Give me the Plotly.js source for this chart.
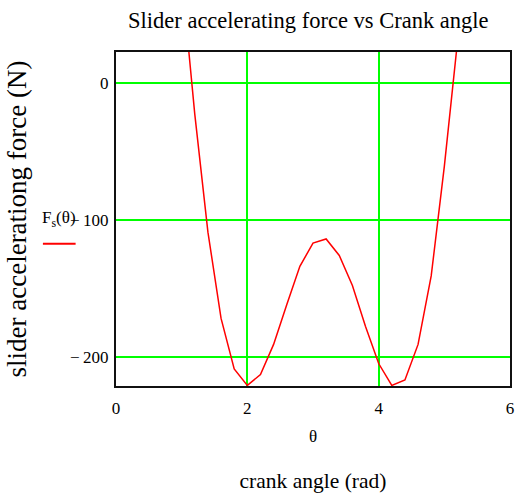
<!DOCTYPE html>
<html>
<head>
<meta charset="utf-8">
<script src="https://cdn.plot.ly/plotly-3.0.1.min.js"></script>
<style>
  html, body { margin: 0; padding: 0; background: #ffffff; }
  #chart { width: 519px; height: 497px; }
</style>
</head>
<body>
<div id="chart"></div>
<script>
// Crank angle samples (rad) and slider accelerating force (N)
const theta = [0, 0.2, 0.4, 0.6, 0.8, 1.0, 1.2, 1.4, 1.6, 1.8, 2.0, 2.2, 2.4, 2.6, 2.8, 3.0,
               3.2, 3.4, 3.6, 3.8, 4.0, 4.2, 4.4, 4.6, 4.8, 5.0, 5.2, 5.4, 5.6, 5.8, 6.0, 6.2];
const Fs = [430, 412, 360, 280, 182, 78, -23, -109, -172, -209, -221, -213, -191, -162, -134, -117,
            -114, -126, -148, -178, -205, -221, -217, -191, -141, -61, 35, 139, 241, 330, 394, 427];

const xTickVals = [0, 2, 4, 6];
const xTickText = ['0', '2', '4', '6'];
const yTickVals = [0, -100, -200];
const yTickText = ['0', '\u2212\u2009100', '\u2212\u2009200'];

const chartTitle = 'Slider accelerating force vs Crank angle';
const xTitle = 'crank angle (rad)';
const yTitle = 'slider accelerationg force (N)';
const xVarLabel = '\u03b8';
const legendLabel = 'F<sub>s</sub>(\u03b8)';

const serif = "'Liberation Serif', serif";

const trace = {
  x: theta,
  y: Fs,
  type: 'scatter',
  mode: 'lines',
  line: { color: '#ff0000', width: 1.5 },
  name: legendLabel,
  showlegend: false,
  hoverinfo: 'x+y'
};

const layout = {
  width: 519,
  height: 497,
  margin: { l: 116, r: 9, t: 52, b: 111, pad: 0 },
  paper_bgcolor: '#ffffff',
  plot_bgcolor: '#ffffff',
  font: { family: serif, color: '#000000', size: 17 },
  title: {
    text: chartTitle,
    font: { family: serif, size: 22.5, color: '#000000' },
    xref: 'paper', x: 0.488, xanchor: 'center',
    yref: 'container', y: 0.96, yanchor: 'middle'
  },
  xaxis: {
    range: [0, 6],
    tickvals: xTickVals,
    ticktext: xTickText,
    ticks: '',
    ticklabelstandoff: 6,
    tickfont: { family: serif, size: 17, color: '#000000' },
    showgrid: true,
    gridcolor: '#00ff00',
    gridwidth: 2,
    zeroline: false,
    showline: true,
    linecolor: '#111111',
    linewidth: 2,
    mirror: true,
    title: {
      text: xTitle,
      font: { family: serif, size: 21.5, color: '#000000' },
      standoff: 56
    },
    automargin: false,
    fixedrange: true
  },
  yaxis: {
    range: [-221.4, 22.6],
    tickvals: yTickVals,
    ticktext: yTickText,
    ticks: '',
    ticklabelstandoff: 2,
    tickfont: { family: serif, size: 17, color: '#000000' },
    showgrid: true,
    gridcolor: '#00ff00',
    gridwidth: 2,
    zeroline: false,
    showline: true,
    linecolor: '#111111',
    linewidth: 2,
    mirror: true,
    title: {
      text: yTitle,
      font: { family: serif, size: 27, color: '#000000' },
      standoff: 36
    },
    automargin: false,
    fixedrange: true
  },
  annotations: [
    {
      text: xVarLabel,
      xref: 'paper', yref: 'paper',
      x: 0.5, y: -0.1526,
      xanchor: 'center', yanchor: 'middle',
      showarrow: false,
      font: { family: serif, size: 17, color: '#000000' }
    },
    {
      text: legendLabel,
      xref: 'paper', yref: 'paper',
      x: -0.192, y: 0.5,
      xanchor: 'left', yanchor: 'middle',
      showarrow: false,
      font: { family: serif, size: 17, color: '#000000' }
    }
  ],
  shapes: [
    {
      type: 'line',
      xref: 'paper', yref: 'paper',
      x0: -0.1855, x1: -0.1025, y0: 0.4257, y1: 0.4257,
      line: { color: '#ff0000', width: 2 }
    }
  ]
};

Plotly.newPlot('chart', [trace], layout, { displayModeBar: false, staticPlot: true });
</script>
</body>
</html>
